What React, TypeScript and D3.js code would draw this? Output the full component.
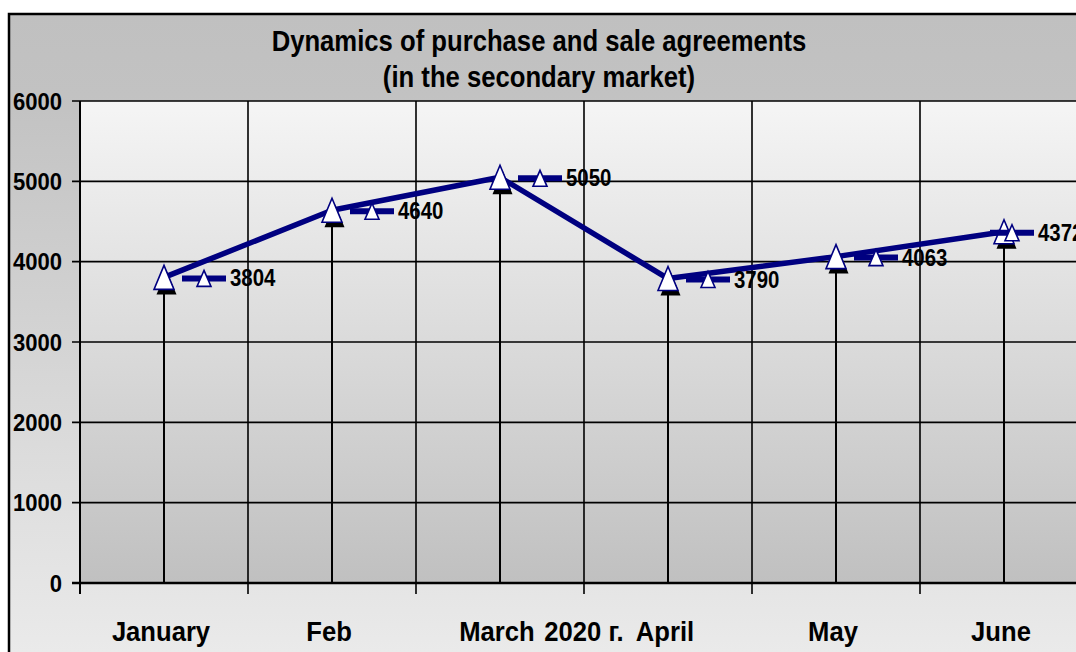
import * as d3 from 'd3';

const months = ['January', 'Feb', 'March', 'April', 'May', 'June'];
const agreements = [3804, 4640, 5050, 3790, 4063, 4372];
const yTicks = [0, 1000, 2000, 3000, 4000, 5000, 6000];
const titleLines = ['Dynamics of purchase and sale agreements', '(in the secondary market)'];
const axisTitle = '2020 г.';

const W = 1076;
const H = 652;
const plot = { left: 80, right: 1088, top: 101, bottom: 583 };
const chartRight = 1083;
const font = '"Liberation Sans", Arial, Helvetica, sans-serif';
const navy = '#000080';

function tri(cx: number, cy: number, w: number, h: number) {
  return `M${cx},${cy - h / 2}L${cx + w / 2},${cy + h / 2}L${cx - w / 2},${cy + h / 2}Z`;
}

// bold text squeezed horizontally, like the stretched original
function SText(props: { x: number; y: number; sx: number; size: number; anchor?: string; children: string }) {
  const { x, y, sx, size, anchor = 'start', children } = props;
  return (
    <text
      transform={`translate(${x},${y}) scale(${sx},1)`}
      textAnchor={anchor}
      fontFamily={font}
      fontWeight="bold"
      fontSize={size}
      fill="#000"
    >
      {children}
    </text>
  );
}

export default function App() {
  const x = d3.scaleBand<string>().domain(months).range([plot.left, plot.right]).padding(0);
  const y = d3.scaleLinear().domain([0, 6000]).range([plot.bottom, plot.top]);
  const cx = (m: string) => x(m)! + x.bandwidth() / 2;

  const line = d3
    .line<number>()
    .x((_, i) => cx(months[i]))
    .y((d) => y(d));

  const boundaries = months.map((m) => x(m)!).concat([plot.right]);

  return (
    <svg
      width={W}
      height={H}
      style={{ position: 'absolute', left: 0, top: 0, background: '#fff' }}
    >
      <defs>
        <linearGradient id="chartBg" x1="0" y1="0" x2="0" y2="1">
          <stop offset="0" stopColor="#c0c0c0" />
          <stop offset="0.12" stopColor="#c2c2c2" />
          <stop offset="1" stopColor="#ededed" />
        </linearGradient>
        <linearGradient id="plotBg" x1="0" y1="0" x2="0" y2="1">
          <stop offset="0" stopColor="#f5f5f5" />
          <stop offset="1" stopColor="#c0c0c0" />
        </linearGradient>
      </defs>

      {/* chart area */}
      <rect x={9} y={14} width={1100} height={680} fill="url(#chartBg)" stroke="#000" strokeWidth={2.5} />

      {/* plot area */}
      <rect
        x={plot.left}
        y={plot.top}
        width={plot.right - plot.left}
        height={plot.bottom - plot.top}
        fill="url(#plotBg)"
      />

      {/* title */}
      {titleLines.map((t, i) => (
        <SText key={t} x={539} y={51 + i * 36} sx={0.885} size={29} anchor="middle">
          {t}
        </SText>
      ))}

      {/* horizontal grid + y ticks */}
      {yTicks.map((t) => (
        <g key={t}>
          <line x1={plot.left - 8} x2={plot.right} y1={y(t)} y2={y(t)} stroke="#000" strokeWidth={t === 0 ? 2.5 : 1.6} />
          <SText x={62} y={y(t) + 8.5} sx={0.92} size={24} anchor="end">
            {String(t)}
          </SText>
        </g>
      ))}

      {/* vertical grid at category boundaries */}
      {boundaries.map((b, i) => (
        <line key={i} x1={b} x2={b} y1={plot.top} y2={plot.bottom + 11} stroke="#000" strokeWidth={i === 0 ? 2 : 1.6} />
      ))}

      {/* drop lines */}
      {agreements.map((v, i) => (
        <line key={i} x1={cx(months[i])} x2={cx(months[i])} y1={y(v)} y2={plot.bottom} stroke="#000" strokeWidth={2} />
      ))}

      {/* series line */}
      <path d={line(agreements) ?? ''} fill="none" stroke={navy} strokeWidth={5.5} strokeLinejoin="round" />

      {/* markers */}
      {agreements.map((v, i) => {
        const px = cx(months[i]);
        const py = y(v);
        return (
          <g key={i}>
            <path d={tri(px + 2.5, py + 5, 20, 24)} fill="#000" />
            <path d={tri(px, py, 20, 24)} fill="#fff" stroke={navy} strokeWidth={1.6} />
          </g>
        );
      })}

      {/* data labels with legend key */}
      {agreements.map((v, i) => {
        const px = cx(months[i]);
        const py = y(v);
        let start = px + 18;
        const end = start + 93;
        if (end > chartRight) start -= end - chartRight;
        return (
          <g key={i}>
            <line x1={start} x2={start + 44} y1={py + 1} y2={py + 1} stroke={navy} strokeWidth={6} />
            <path d={tri(start + 22, py + 1, 14, 16)} fill="#fff" stroke={navy} strokeWidth={1.6} />
            <SText x={start + 48} y={py + 9} sx={0.85} size={24}>
              {String(v)}
            </SText>
          </g>
        );
      })}

      {/* category labels */}
      {months.map((m) => (
        <SText key={m} x={cx(m) - 3} y={641} sx={0.915} size={28} anchor="middle">
          {m}
        </SText>
      ))}
      <SText x={x('April')!} y={641} sx={0.915} size={28} anchor="middle">
        {axisTitle}
      </SText>
    </svg>
  );
}
